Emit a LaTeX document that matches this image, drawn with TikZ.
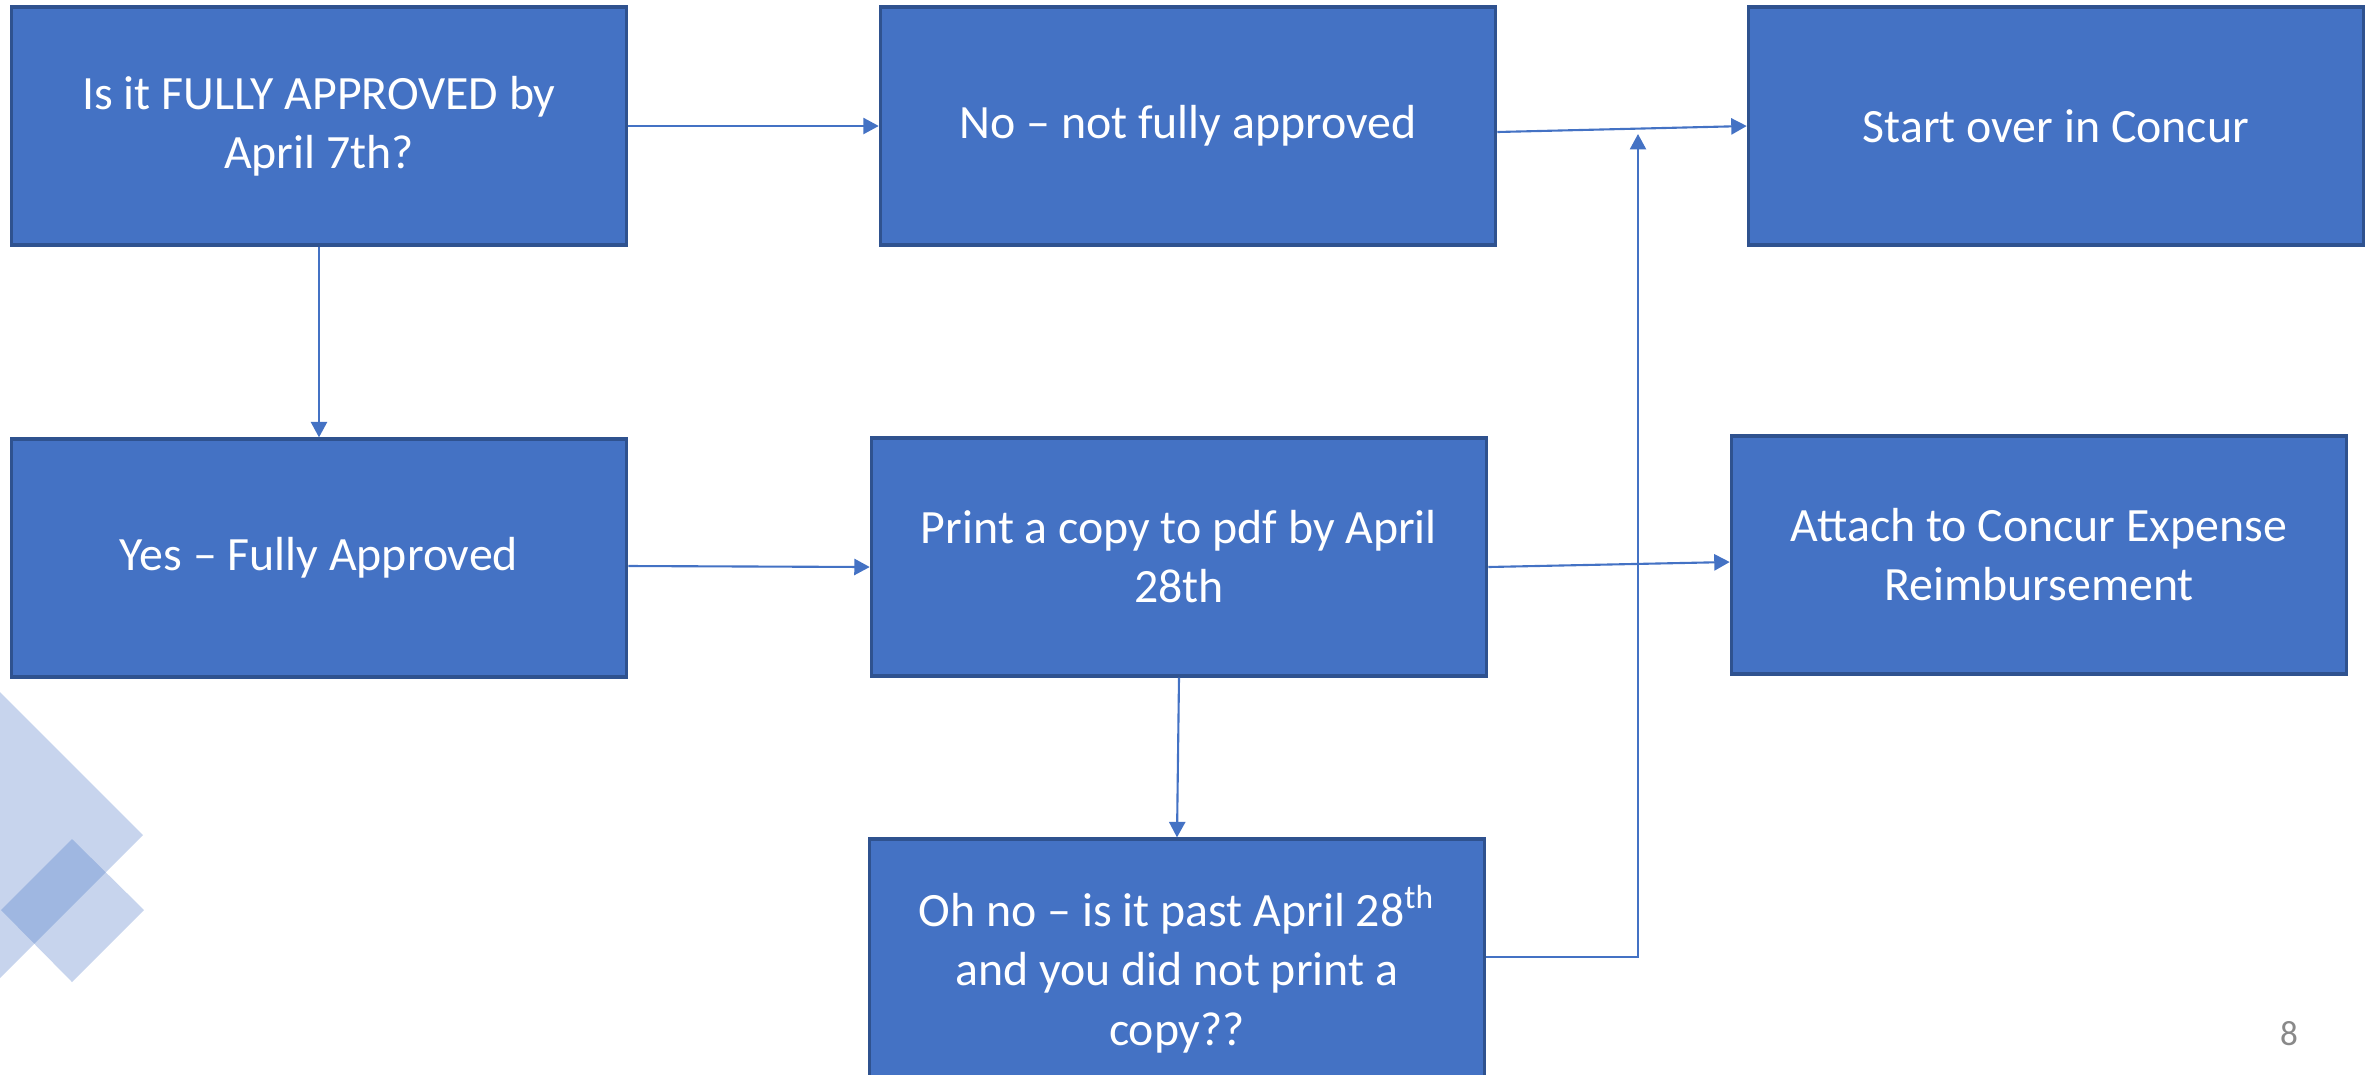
\documentclass[tikz,border=0pt]{standalone}
\usepackage{fontspec}
\setmainfont{Carlito}
\usetikzlibrary{arrows.meta}
\definecolor{boxblue}{HTML}{4472C4}
\definecolor{edgeblue}{HTML}{2F528F}
\definecolor{pagegray}{HTML}{898989}

\begin{document}
\begin{tikzpicture}[x=0.01cm,y=-0.01cm]
		\tikzstyle{every node}+=[inner sep=0pt]
		\tikzstyle{stepbox}=[draw=edgeblue,fill=boxblue,line width=0.9pt,minimum width=6.15cm,minimum height=2.38cm,text=white,align=center,font=\fontsize{13.6}{16.8}\selectfont]
		\tikzstyle{link}=[boxblue,line width=0.6pt,-{Triangle[width=4.6pt,length=4.4pt]}]
		\useasboundingbox (0,0) rectangle (2374,1075);
		\fill [boxblue,opacity=0.3] (0,692) -- (143,835) -- (0,978) -- (-143,835) -- cycle;
		\fill [boxblue,opacity=0.3] (72,839) -- (144,910) -- (72,982) -- (1,910) -- cycle;
		\node [stepbox] (approved) at (319,126) {Is it FULLY APPROVED by\\April 7th?};
		\node [stepbox] (notfully) at (1188,126) {No -- not fully approved};
		\node [stepbox] (startover) at (2056,126) {Start over in Concur};
		\node [stepbox] (fully) at (319,558) {Yes -- Fully Approved};
		\node [stepbox] (printpdf) at (1179,557) {Print a copy to pdf by April\\28th};
		\node [stepbox] (attach) at (2039,555) {Attach to Concur Expense\\Reimbursement};
		\node [stepbox,minimum height=2.6cm] (ohno) at (1177,969) {Oh no -- is it past April 28\textsuperscript{th}\\and you did not print a\\copy??};
		\node [text=pagegray,font=\fontsize{10}{12}\selectfont] (pagenum) at (2289,1034) {8};
		\coordinate (bend) at (1638,957);
		\coordinate (tip) at (1638,134);
		\draw [link] (approved.east) -- (notfully.west);
		\draw [link] ([yshift=-0.06cm]notfully.east) -- (startover.west);
		\draw [link] (approved.south) -- (fully.north);
		\draw [link] ([yshift=-0.08cm]fully.east) -- ([yshift=-0.1cm]printpdf.west);
		\draw [link] ([yshift=-0.1cm]printpdf.east) -- ([yshift=-0.07cm]attach.west);
		\draw [link] (printpdf.south) -- (ohno.north);
		\draw [link] (ohno.east |- bend) -- (bend) -- (tip);
\end{tikzpicture}
\end{document}
